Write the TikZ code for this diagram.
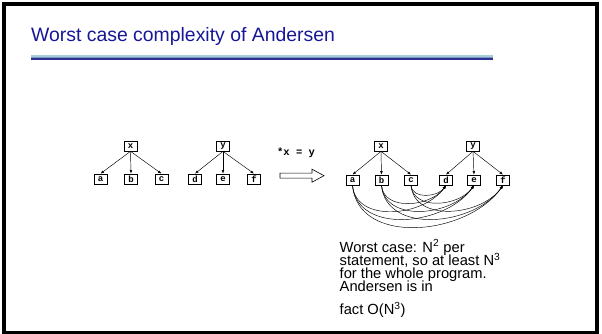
\documentclass[tikz,border=0pt]{standalone}
\usepackage{fontspec}
\setmainfont{Liberation Sans}
\newfontfamily\monob{Liberation Mono}[BoldFont={Liberation Mono Bold}]
\usetikzlibrary{arrows.meta}
\definecolor{titleblue}{RGB}{22,22,150}
\definecolor{rulelight}{RGB}{168,206,216}
\definecolor{rulemid}{RGB}{120,150,200}
\definecolor{ruledark}{RGB}{46,49,146}
\newcommand\bodyfont{\fontsize{14.7}{13.2}\selectfont\lineskiplimit -8pt\relax}
\tikzset{
  var/.style={draw, line width=0.7pt, minimum width=13pt, minimum height=10pt,
    inner sep=0pt, font=\monob\bfseries\fontsize{9}{9}\selectfont},
  ptr/.style={line width=0.45pt, -{Latex[length=3.5pt,width=2.6pt]}},
  arc/.style={line width=0.45pt, -{Latex[length=3.5pt,width=2.6pt]}},
  body/.style={font=\bodyfont, align=left, anchor=base west, inner sep=0pt}
}
\begin{document}
\begin{tikzpicture}[x=1pt,y=1pt]
\useasboundingbox (0,0) rectangle (602,334);
% slide frame
\draw[line width=4.3pt] (4,0.5) rectangle (597,330);
% title and its rule
\node[anchor=base west, inner sep=0pt, text=titleblue, font=\fontsize{19.4}{19.4}\selectfont]
  (title) at (31,292) {Worst case complexity of Andersen};
\fill[rulelight] (31,276.5) rectangle (493,279);
\fill[rulemid] (31,275.5) rectangle (493,276.5);
\fill[ruledark] (31,274) rectangle (493,275.5);

% before: x and y with their points-to sets
\node[var] (lx) at (130.5,188) {x};
\node[var] (la) at (100.5,155) {a};
\node[var] (lb) at (131,155) {b};
\node[var] (lc) at (161.5,155) {c};
\node[var] (ly) at (223,188) {y};
\node[var] (ld) at (195,155) {d};
\node[var] (le) at (223,155) {e};
\node[var] (lf) at (254,155) {f};
\foreach \t in {la,lb,lc} \draw[ptr] (lx.south) -- (\t.north);
\foreach \t in {ld,le,lf} \draw[ptr] (ly.south) -- (\t.north);

% the statement and the hollow arrow
\node[font=\monob\bfseries\fontsize{10.5}{10.5}\selectfont, inner sep=0pt] (stmt) at (296,181) {*x = y};
\draw[line width=0.6pt] (280,155.8) -- (312,155.8) -- (312,151.8) -- (324,158.3)
  -- (312,164.8) -- (312,160.8) -- (280,160.8) -- cycle;

% after: every target of x now points to every target of y
\node[var] (rx) at (381,188) {x};
\node[var] (ry) at (473,188) {y};
\node[var] (ra) at (352.5,154) {a};
\node[var] (rb) at (381.5,154) {b};
\node[var] (rc) at (411,154) {c};
\node[var] (rd) at (446,154) {d};
\node[var] (re) at (474,154) {e};
\node[var] (rf) at (503,154) {f};
\foreach \t in {ra,rb,rc} \draw[ptr] (rx.south) -- (\t.north);
\foreach \t in {rd,re,rf} \draw[ptr] (ry.south) -- (\t.north);
\foreach \s in {ra,rb,rc}
  \foreach \t in {rd,re,rf}
    \draw[arc] (\s.south) to[out=-85,in=-125,looseness=1.05] (\t.south);

% commentary
\node[body] (note) at (339.5,42.3)
  {Worst case: N\textsuperscript{2} per\\
   statement, so at least N\textsuperscript{3}\\
   for the whole program.\\
   Andersen is in};
\node[body] (note2) at (339.5,19) {fact O(N\textsuperscript{3})};
\end{tikzpicture}
\end{document}
